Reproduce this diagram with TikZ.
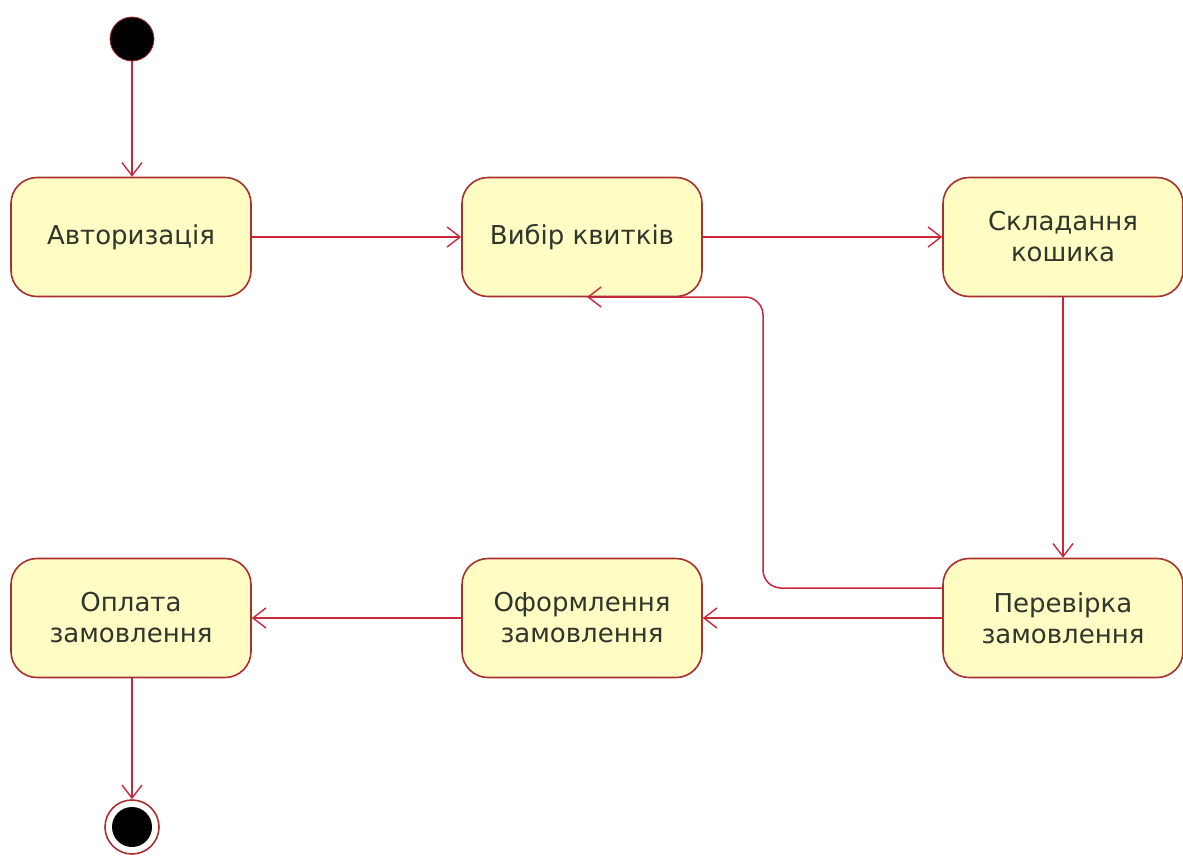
\documentclass[tikz,border=0pt]{standalone}
\usepackage{fontspec}
\setmainfont{DejaVu Sans}
\usetikzlibrary{arrows.meta}
\definecolor{boxfill}{HTML}{FFFCC4}
\definecolor{boxline}{HTML}{A8302E}
\definecolor{edgecol}{HTML}{C8283A}
\definecolor{txt}{HTML}{2F362C}
\begin{document}
\begin{tikzpicture}[x=1pt,y=-1pt,
  state/.style={draw=boxline, line width=1.6pt, fill=boxfill, rounded corners=26pt,
    minimum width=240pt, minimum height=119pt, inner sep=0pt, align=center,
    font=\fontsize{26}{31}\selectfont, text=txt},
  flow/.style={draw=edgecol, line width=1.5pt, -{Straight Barb[length=13pt,width=20pt,line width=1.4pt]}},
  startdot/.style={circle, fill=black, draw=boxline, line width=0.8pt, minimum size=44pt, inner sep=0pt}]
\useasboundingbox (0,0) rectangle (1183,857);
\node[startdot] (start) at (132,39) {};
\node[state] (auth) at (131,237) {Авторизація};
\node[state] (choose) at (582,237) {Вибір квитків};
\node[state] (cart) at (1063,237) {Складання\\кошика};
\node[state] (check) at (1063,618) {Перевірка\\замовлення};
\node[state] (form) at (582,618) {Оформлення\\замовлення};
\node[state] (pay) at (131,618) {Оплата\\замовлення};
\node[circle, draw=boxline, line width=1.6pt, fill=white, minimum size=54pt, inner sep=0pt] (end) at (132,827) {};
\node[circle, fill=black, minimum size=40pt, inner sep=0pt] (endin) at (end) {};
\coordinate (bk1) at (763,588);
\coordinate (bk2) at (763,297);
\coordinate (bk3) at (587,297);
\draw[flow] (start.south) -- (start.south |- auth.north);
\draw[flow] (auth) -- (choose);
\draw[flow] (choose) -- (cart);
\draw[flow] (cart) -- (check);
\draw[flow] (check) -- (form);
\draw[flow] (form) -- (pay);
\draw[flow] (end.north |- pay.south) -- (end.north);
\draw[flow, rounded corners=18pt] (check.west |- bk1) -- (bk1) -- (bk2) -- (bk3);
\end{tikzpicture}
\end{document}
